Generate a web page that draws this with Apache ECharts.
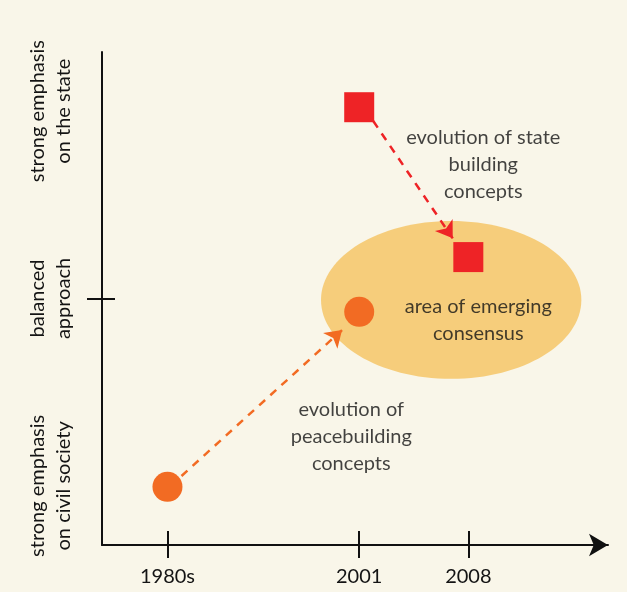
<!DOCTYPE html>
<html>
<head>
<meta charset="utf-8">
<script src="https://cdn.jsdelivr.net/npm/echarts@6/dist/echarts.min.js"></script>
<style>
html, body { margin: 0; padding: 0; background: #f9f6e9; }
#main { width: 627px; height: 592px; }
</style>
</head>
<body>
<div id="main"></div>
<script>
// x positions of the three periods (year scale, 1980s placed by eye)
var xTicks = [1988.7, 2001, 2008];
var xTickLabels = ['1980s', '2001', '2008'];

// y scale: 0 = civil society, 100 = state
var yLabelVals = [12, 50, 88];
var yLabels = ['strong emphasis\non civil society', 'balanced\napproach', 'strong emphasis\non the state'];
var yTickVals = [50];

var peacePoints = [[1988.7, 11.8], [2001, 47.3]];
var statePoints = [[2001, 88.8], [2008, 58.4]];

// dashed arrows, from / to
var peaceArrow = [[1989.6, 14.0], [1999.9, 43.6]];
var stateArrow = [[2001.9, 86.0], [2007.0, 62.2]];

// consensus area: center x, center y, x radius, y radius
var consensusArea = [2006.9, 49.7, 8.35, 16.0];

var notes = [
  { value: [2008.96, 77.1], text: 'evolution of state\nbuilding\nconcepts' },
  { value: [2008.64, 45.6], text: 'area of emerging\nconsensus' },
  { value: [2000.49, 22.1], text: 'evolution of\npeacebuilding\nconcepts' }
];

var FONT = 'Lato';
var TEXT = '#141414';
var ORANGE = '#f26b23';
var RED = '#ee2326';

var myChart = echarts.init(document.getElementById('main'));

var option = {
  backgroundColor: '#f9f6e9',
  animation: false,
  grid: { left: 102, right: 19, top: 52, bottom: 47 },
  xAxis: [{
    type: 'value',
    min: 1984.5,
    max: 2016.96,
    splitLine: { show: false },
    axisLine: {
      show: true,
      symbol: ['none', 'arrow'],
      symbolSize: [17, 19],
      lineStyle: { color: '#111', width: 2 }
    },
    axisTick: {
      show: true,
      customValues: xTicks,
      length: 13,
      lineStyle: { color: '#111', width: 2 }
    },
    axisLabel: {
      customValues: xTicks,
      margin: 22,
      fontFamily: FONT,
      fontSize: 20,
      color: TEXT,
      formatter: function (v) {
        var i = xTicks.indexOf(v);
        return i >= 0 ? xTickLabels[i] : '';
      }
    }
  }, {
    type: 'value',
    position: 'bottom',
    min: 1984.5,
    max: 2016.96,
    splitLine: { show: false },
    axisLine: { show: false },
    axisTick: {
      show: true,
      inside: true,
      customValues: xTicks,
      length: 14,
      lineStyle: { color: '#111', width: 2 }
    },
    axisLabel: { show: false }
  }],
  yAxis: [{
    type: 'value',
    min: 0,
    max: 100,
    splitLine: { show: false },
    axisLine: { show: true, lineStyle: { color: '#111', width: 2 } },
    axisTick: {
      show: true,
      customValues: yTickVals,
      length: 15,
      lineStyle: { color: '#111', width: 2 }
    },
    axisLabel: {
      customValues: yLabelVals,
      rotate: 90,
      margin: 25,
      fontFamily: FONT,
      fontSize: 20,
      lineHeight: 26,
      color: TEXT,
      align: 'center',
      formatter: function (v) {
        var i = yLabelVals.indexOf(v);
        return i >= 0 ? yLabels[i] : '';
      }
    }
  }, {
    type: 'value',
    position: 'left',
    min: 0,
    max: 100,
    splitLine: { show: false },
    axisLine: { show: false },
    axisTick: {
      show: true,
      inside: true,
      customValues: yTickVals,
      length: 13,
      lineStyle: { color: '#111', width: 2 }
    },
    axisLabel: { show: false }
  }],
  series: [{
    type: 'custom',
    silent: true,
    z: 1,
    data: [consensusArea],
    renderItem: function (params, api) {
      var c = api.coord([api.value(0), api.value(1)]);
      var s = api.size([api.value(2), api.value(3)]);
      return {
        type: 'ellipse',
        shape: { cx: c[0], cy: c[1], rx: s[0], ry: s[1] },
        style: { fill: '#f6cd7b' }
      };
    }
  }, {
    type: 'lines',
    coordinateSystem: 'cartesian2d',
    z: 3,
    symbol: ['none', 'arrow'],
    symbolSize: 16,
    lineStyle: { color: ORANGE, width: 2.5, type: [8, 7], opacity: 1 },
    data: [{ coords: peaceArrow }]
  }, {
    type: 'lines',
    coordinateSystem: 'cartesian2d',
    z: 3,
    symbol: ['none', 'arrow'],
    symbolSize: 16,
    lineStyle: { color: RED, width: 2.5, type: [8, 7], opacity: 1 },
    data: [{ coords: stateArrow }]
  }, {
    type: 'scatter',
    z: 4,
    symbol: 'circle',
    symbolSize: 30,
    itemStyle: { color: ORANGE, opacity: 1 },
    data: peacePoints
  }, {
    type: 'scatter',
    z: 4,
    symbol: 'rect',
    symbolSize: 30,
    itemStyle: { color: RED, opacity: 1 },
    data: statePoints
  }, {
    type: 'scatter',
    z: 5,
    symbolSize: 0,
    silent: true,
    label: {
      show: true,
      position: 'inside',
      fontFamily: FONT,
      fontSize: 20,
      lineHeight: 27,
      color: TEXT,
      align: 'center',
      formatter: function (p) { return p.data.text; }
    },
    data: notes
  }]
};

myChart.setOption(option);
</script>
</body>
</html>
